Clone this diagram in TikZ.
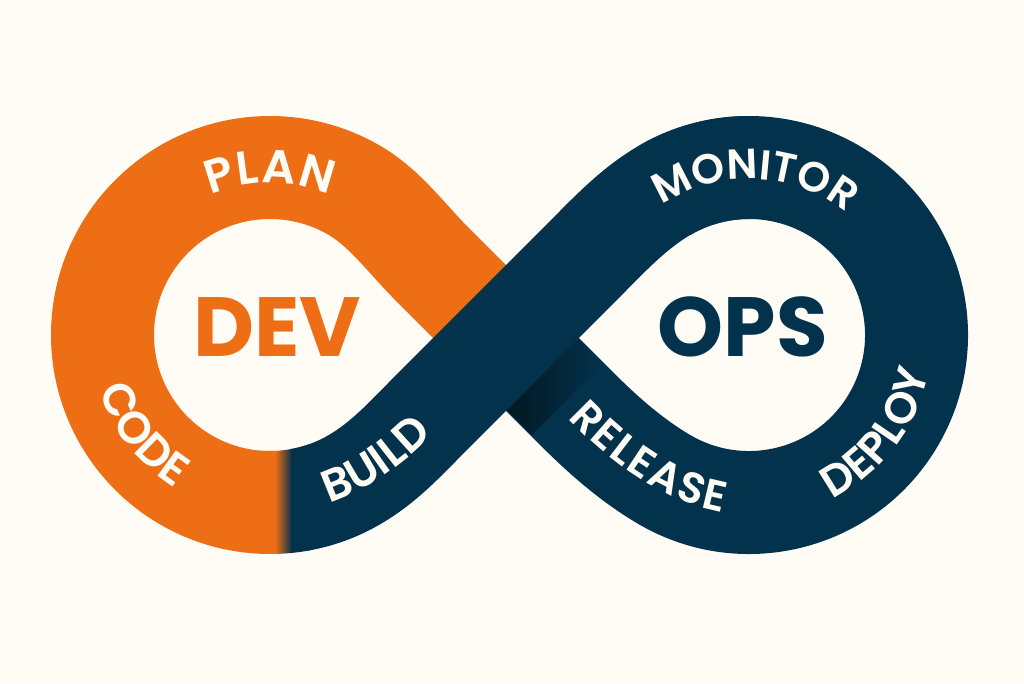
\documentclass[tikz,border=0pt]{standalone}
\usepackage{fontspec}
\setmainfont{Poppins}
\newfontfamily\labf{Poppins SemiBold}
\usetikzlibrary{decorations.text,calc}
\definecolor{bgc}{HTML}{FFFCF6}
\definecolor{org}{HTML}{EE6E15}
\definecolor{nav}{HTML}{03324D}
\definecolor{shd}{HTML}{021821}
\tikzset{
  band/.style={line width=103pt,line cap=butt,line join=round},
  lab/.style n args={2}{decorate,decoration={text along path,text align={fit to path},
    text={|\labf\fontsize{#1}{#1}\selectfont\color{bgc}|#2}}},
  big/.style={font=\bfseries\fontsize{84}{84}\selectfont,inner sep=0pt},
}
\begin{document}
\begin{tikzpicture}[x=1pt,y=1pt]
\useasboundingbox (0,0) rectangle (1024,683);
\fill[bgc] (0,0) rectangle (1024,683);
\coordinate (C1) at (270,348);
\coordinate (C2) at (749,348);
\coordinate (X) at (506,345);
% orange part
\draw[band,org] ($(C1)+(272:167.5)$) arc[start angle=272,end angle=60,radius=167.5]
  .. controls (385,475) and (406.5,444.5) .. (432,419) -- (X);
% lower navy part and full right loop
\draw[band,nav] (X) -- (578,273) .. controls (604,247) and (633.25,221.5) .. ($(C2)+(240:167.5)$)
  arc[start angle=240,end angle=480,radius=167.5];
% shadow on lower band
\begin{scope}[shift={(542,309)},rotate=-45]
\shade[left color=shd,middle color=shd!50!nav,right color=nav] (-1,-50.5) rectangle (36,50.5);
\end{scope}
% upper navy crossing
\draw[band,nav] ($(C2)+(90:167.5)$) arc[start angle=90,end angle=120,radius=167.5]
  .. controls (632.3,474) and (607,446) .. (580,419) -- (432,271)
  .. controls (406.5,245.5) and (385,221) .. ($(C1)+(-60:167.5)$)
  arc[start angle=-60,end angle=-80,radius=167.5];
% colour transition
\begin{scope}[even odd rule]
\clip (C1) circle (219) (C1) circle (116);
\fill[org] (262,120) rectangle (276,240);
\shade[left color=org,right color=nav] (275,120) rectangle (292,240);
\fill[nav] (291,120) rectangle (310,240);
\end{scope}
% titles
\node[big,text=org] (dev) at (277,356) {DEV};
\node[big,text=nav] (ops) at (743,356) {OPS};
% curved labels
\path[lab={47}{PLAN}] ($(C1)+(113:152)$) arc[start angle=113,end angle=67,radius=152];
\path[lab={45}{CODE}] ($(C1)+(198:180)$) arc[start angle=198,end angle=238,radius=180];
\path[lab={45}{BUILD}] (329,180) .. controls (365,191) and (400,216) .. (432,247);
\path[lab={43}{RELEASE}] (568,265) .. controls (610,220) and (665,181) .. (723,171);
\path[lab={44}{DEPLOY}] ($(C2)+(-63:184)$) arc[start angle=-63,end angle=-13,radius=184];
\path[lab={42}{MONITOR}] ($(C2)+(124:156)$) arc[start angle=124,end angle=54,radius=156];
\end{tikzpicture}
\end{document}
